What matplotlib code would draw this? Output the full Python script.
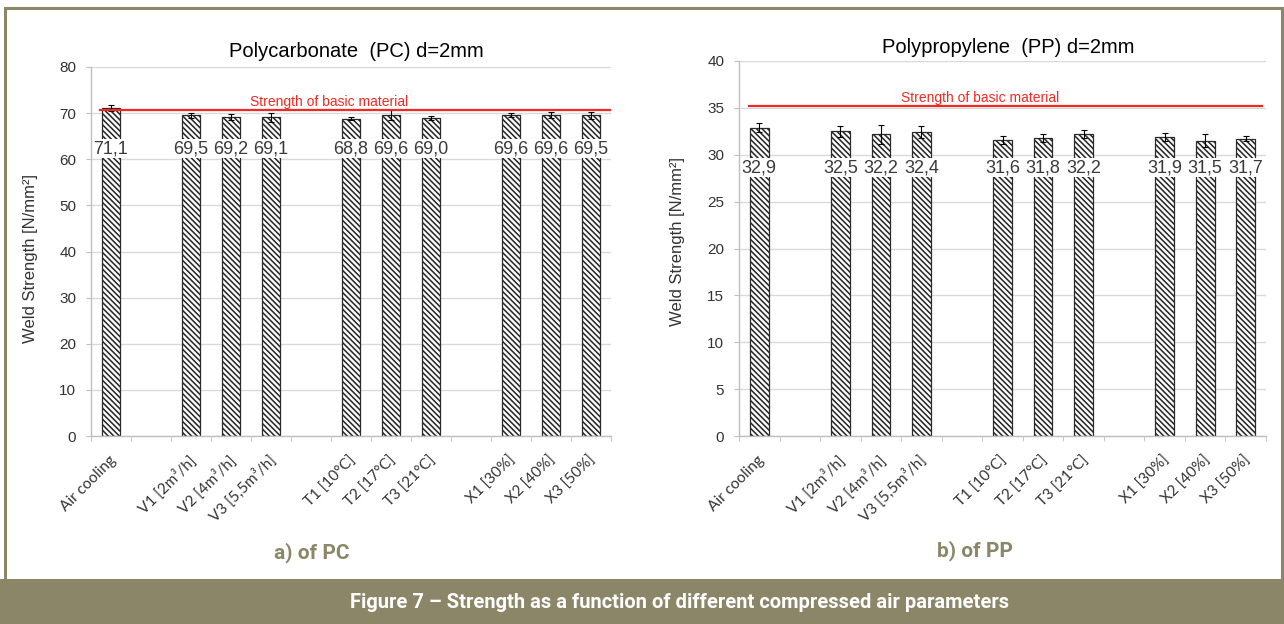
import matplotlib
matplotlib.use("Agg")
import matplotlib.pyplot as plt
import numpy as np
from matplotlib.patches import Rectangle
from matplotlib.ticker import FixedLocator, MultipleLocator
from matplotlib.transforms import ScaledTranslation

# categories, grouped; an empty slot is left between groups
groups = [
    ["Air cooling"],
    ["V1 [2m³/h]", "V2 [4m³/h]", "V3 [5,5m³/h]"],
    ["T1 [10°C]", "T2 [17°C]", "T3 [21°C]"],
    ["X1 [30%]", "X2 [40%]", "X3 [50%]"],
]

pc_values = [71.1, 69.5, 69.2, 69.1, 68.8, 69.6, 69.0, 69.6, 69.6, 69.5]
pc_errors = [0.6, 0.5, 0.6, 1.0, 0.3, 1.0, 0.4, 0.5, 0.6, 0.8]
pc_basic = 70.6

pp_values = [32.9, 32.5, 32.2, 32.4, 31.6, 31.8, 32.2, 31.9, 31.5, 31.7]
pp_errors = [0.45, 0.6, 1.0, 0.65, 0.4, 0.4, 0.4, 0.45, 0.7, 0.25]
pp_basic = 35.2

OLIVE = "#8b8667"
GRID = "#d9d9d9"
AXIS = "#bfbfbf"
TXT = "#333333"
RED = "#f02a22"
ARIAL = ["Liberation Sans", "DejaVu Sans"]

plt.rcParams["hatch.linewidth"] = 1.15

positions = []
labels = []
slot = 0
for group in groups:
    for name in group:
        positions.append(slot)
        labels.append(name)
        slot += 1
    slot += 1
n_slots = slot - 1


def draw_panel(fig, ax, values, errors, basic, ymax, ystep, title, label_y,
               line_span, title_y, ylabel_y):
    ax.bar(positions, values, width=0.46, color="white", edgecolor="#2a2a2a",
           linewidth=0.9, hatch="\\" * 6, zorder=2,
           yerr=errors, error_kw=dict(ecolor="black", elinewidth=0.8,
                                      capsize=2.5, capthick=0.8, zorder=3))

    for x, v in zip(positions, values):
        ax.text(x, label_y, f"{v:.1f}".replace(".", ","), ha="center",
                va="center", fontsize=13, color="#3a3a3a", family=ARIAL,
                bbox=dict(fc="white", ec="none", pad=0.8), zorder=4)

    ax.axhline(basic, xmin=line_span[0], xmax=line_span[1], color=RED,
               lw=1.6, zorder=3)
    ax.annotate("Strength of basic material", xy=(5.45, basic),
                xytext=(0, 1), textcoords="offset points", ha="center",
                va="bottom", color=RED, fontsize=10, family=ARIAL)

    ax.set_xlim(-0.5, n_slots - 0.5)
    ax.set_ylim(0, ymax)
    ax.yaxis.set_major_locator(MultipleLocator(ystep))
    ax.yaxis.grid(True, color=GRID, lw=1.0)
    ax.set_axisbelow(True)

    for side in ["top", "right"]:
        ax.spines[side].set_visible(False)
    for side in ["left", "bottom"]:
        ax.spines[side].set_color(AXIS)
        ax.spines[side].set_linewidth(1.0)

    ax.tick_params(axis="y", length=3.6, color=AXIS, labelsize=11,
                   labelcolor=TXT, pad=7)
    for lab in ax.get_yticklabels():
        lab.set_family(ARIAL)

    ax.xaxis.set_major_locator(FixedLocator(positions))
    ax.xaxis.set_minor_locator(FixedLocator(np.arange(-0.5, n_slots, 1)))
    ax.set_xticklabels(labels, family=["Lato", "DejaVu Sans"], fontsize=11,
                       color=TXT, rotation=45, ha="right", va="center",
                       rotation_mode="anchor")
    ax.tick_params(axis="x", which="major", length=0, pad=16)
    ax.tick_params(axis="x", which="minor", length=3.5, color=AXIS)
    shift = ScaledTranslation(2 / 72, 0, fig.dpi_scale_trans)
    for lab in ax.get_xticklabels():
        lab.set_transform(lab.get_transform() + shift)

    ax.text(0.51, title_y, title, transform=ax.transAxes, ha="center",
            va="center", fontsize=14.5, color="black", family=ARIAL)
    ax.text(-0.117, ylabel_y, "Weld Strength [N/mm²]", transform=ax.transAxes,
            rotation=90, ha="center", va="center", fontsize=12,
            color=TXT, family=ARIAL)


fig = plt.figure(figsize=(12.84, 6.24), dpi=100)

ax1 = fig.add_axes([91 / 1284, 188 / 624, 520 / 1284, 369 / 624])
ax2 = fig.add_axes([739 / 1284, 188 / 624, 527 / 1284, 375 / 624])

draw_panel(fig, ax1, pc_values, pc_errors, pc_basic, 80, 10,
           "Polycarbonate  (PC) d=2mm", 62.3, (0.017, 0.998), 1.041, 0.48)
draw_panel(fig, ax2, pp_values, pp_errors, pp_basic, 40, 5,
           "Polypropylene  (PP) d=2mm", 28.6, (0.019, 0.992), 1.037, 0.52)

# captions
fig.text(312 / 1284, 1 - 553 / 624, "a) of PC", ha="center", va="center",
         fontsize=15, color=OLIVE, family="Roboto", weight="bold")
fig.text(975 / 1284, 1 - 551 / 624, "b) of PP", ha="center", va="center",
         fontsize=15, color=OLIVE, family="Roboto", weight="bold")

# frame and bottom banner
fig.patches.append(Rectangle((4.5 / 1284, 0), 1277 / 1284, 1 - 7.5 / 624,
                             transform=fig.transFigure, fill=False,
                             ec=OLIVE, lw=2.2, zorder=0))
fig.patches.append(Rectangle((0, 0), 1, 45 / 624, transform=fig.transFigure,
                             fc=OLIVE, ec="none", zorder=1))
fig.text(680 / 1284, 1 - 603 / 624,
         "Figure 7 – Strength as a function of different compressed air parameters",
         ha="center", va="center", fontsize=14.5, color="white",
         family="Roboto", weight="bold", zorder=2)

fig.savefig("out.png", dpi=100)
